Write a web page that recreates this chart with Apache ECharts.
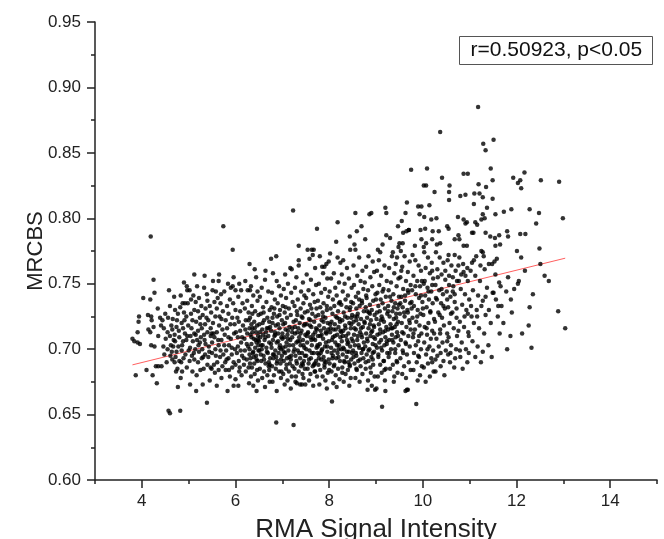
<!DOCTYPE html>
<html><head><meta charset="utf-8">
<script src="https://cdn.jsdelivr.net/npm/echarts@6/dist/echarts.min.js"></script>
<style>html,body{margin:0;padding:0;background:#fff}#c{width:664px;height:539px}</style>
</head><body><div id="c"></div>
<script>
const xMajorTicks=[4,6,8,10,12,14];
const xMinorTicks=[3,5,7,9,11,13,15];
const fitLine=[[3.8,0.688],[13.04,0.7695]];
const statText='r=0.50923, p<0.05';

const pointsA=[[3.80,0.708],[3.84,0.706],[3.91,0.705],[3.96,0.704],[3.91,0.713],[3.93,0.721],[3.94,0.725],[3.87,0.680],[4.03,0.739],[4.18,0.738],
[4.13,0.726],[4.20,0.725],[4.14,0.715],[4.18,0.713],[4.21,0.722],[4.25,0.717],[4.34,0.731],[4.19,0.786],[4.25,0.753],[4.27,0.743],
[4.10,0.684],[4.23,0.680],[4.32,0.674],[4.30,0.687],[4.35,0.687],[4.42,0.687],[4.27,0.702],[4.20,0.703],[4.35,0.710],[4.41,0.718],
[4.39,0.724],[4.44,0.722],[4.48,0.696],[4.46,0.702],[4.50,0.727],[4.51,0.708],[4.57,0.653],[4.60,0.651],[4.82,0.653],[4.55,0.713],
[4.60,0.710],[4.65,0.715],[4.70,0.711],[4.71,0.706],[4.67,0.702],[4.64,0.698],[4.61,0.695],[4.65,0.692],[4.72,0.694],[4.60,0.733],
[4.71,0.730],[4.77,0.727],[4.75,0.722],[4.66,0.723],[4.82,0.732],[4.87,0.735],[4.92,0.735],[4.98,0.735],[4.85,0.720],[4.88,0.716],
[4.92,0.712],[4.80,0.709],[4.88,0.706],[4.95,0.707],[4.78,0.702],[4.85,0.699],[4.93,0.696],[5.00,0.699],[4.70,0.690],[4.80,0.691],
[4.89,0.693],[4.77,0.671],[4.84,0.690],[4.76,0.685],[4.73,0.683],[4.86,0.683],[4.83,0.678],[4.96,0.686],[4.97,0.745],[4.90,0.751],
[4.69,0.740],[4.95,0.725],[4.99,0.718],[4.58,0.745],[4.62,0.703],[4.53,0.690],[4.47,0.716],[4.56,0.724],[4.74,0.717],[4.83,0.741],
[4.55,0.700],[4.63,0.718],[4.68,0.707],[4.74,0.698],[4.79,0.714],[4.86,0.703],[4.91,0.722],[4.97,0.710],[5.03,0.701],[5.06,0.716],
[5.11,0.697],[5.15,0.711],[5.21,0.703],[5.25,0.719],[5.31,0.694],[5.34,0.707],[5.38,0.724],[5.44,0.698],[5.49,0.712],[4.90,0.728]];

const pointsB=[[5.12,0.757],[5.34,0.756],[5.65,0.757],[5.64,0.752],[5.96,0.755],[5.74,0.794],[5.94,0.776],[6.30,0.765],[5.33,0.747],[5.51,0.745],
[5.69,0.742],[5.76,0.744],[5.90,0.747],[5.94,0.748],[6.06,0.740],[6.21,0.752],[6.31,0.745],[5.02,0.745],[4.96,0.748],[5.10,0.741],
[5.05,0.738],[5.15,0.736],[5.22,0.739],[5.27,0.733],[5.20,0.729],[5.12,0.730],[5.05,0.727],[5.08,0.722],[5.16,0.721],[5.24,0.724],
[5.30,0.726],[5.36,0.731],[5.40,0.737],[5.45,0.733],[5.48,0.728],[5.42,0.722],[5.35,0.719],[5.28,0.716],[5.20,0.714],[5.12,0.712],
[5.04,0.710],[5.09,0.706],[5.18,0.707],[5.26,0.709],[5.33,0.711],[5.40,0.713],[5.47,0.716],[5.52,0.720],[5.57,0.725],[5.60,0.731],
[5.55,0.736],[5.62,0.739],[5.68,0.735],[5.73,0.729],[5.70,0.723],[5.65,0.718],[5.60,0.713],[5.55,0.709],[5.50,0.705],[5.43,0.702],
[5.36,0.704],[5.29,0.700],[5.22,0.698],[5.14,0.700],[5.07,0.695],[5.02,0.691],[5.12,0.692],[5.20,0.690],[5.28,0.693],[5.35,0.696],
[5.42,0.694],[5.50,0.697],[5.57,0.700],[5.64,0.703],[5.70,0.707],[5.77,0.711],[5.82,0.716],[5.79,0.722],[5.85,0.727],[5.82,0.733],
[5.88,0.738],[5.95,0.735],[6.00,0.730],[5.93,0.724],[5.98,0.719],[6.04,0.724],[6.10,0.729],[6.15,0.735],[6.20,0.731],[6.25,0.737],
[6.28,0.728],[6.22,0.722],[6.16,0.718],[6.10,0.714],[6.05,0.709],[5.97,0.712],[5.90,0.708],[5.86,0.703],[5.80,0.699],[5.74,0.696],
[5.67,0.694],[5.61,0.690],[5.54,0.688],[5.47,0.686],[5.40,0.688],[5.32,0.685],[5.25,0.684],[5.17,0.680],[5.16,0.668],[5.39,0.659],
[5.83,0.668],[5.96,0.672],[6.06,0.672],[6.29,0.674],[5.88,0.679],[6.08,0.683],[6.13,0.680],[5.49,0.685],[5.56,0.682],[5.64,0.684],
[5.72,0.687],[5.78,0.690],[5.85,0.693],[5.92,0.696],[5.99,0.700],[6.05,0.702],[6.12,0.705],[6.19,0.708],[6.25,0.712],[6.30,0.716],
[6.27,0.702],[6.20,0.699],[6.14,0.695],[6.07,0.691],[6.00,0.688],[5.93,0.686],[5.86,0.684],[6.18,0.688],[6.24,0.692],[6.30,0.696],
[6.22,0.683],[6.28,0.686],[5.70,0.678],[5.45,0.676],[5.30,0.673],[5.60,0.672],[6.00,0.677],[5.08,0.683],[5.03,0.673],[5.24,0.705],
[5.47,0.710],[5.58,0.744],[5.39,0.742],[5.18,0.748],[5.84,0.750],[6.08,0.750],[6.12,0.745],[6.26,0.745],[6.00,0.745],[5.52,0.752]];

const pointsC1=[[6.33,0.748],[6.44,0.755],[6.38,0.741],[6.47,0.737],[6.35,0.733],[6.42,0.729],[6.49,0.726],[6.31,0.724],[6.40,0.721],[6.46,0.718],
[6.36,0.716],[6.44,0.713],[6.32,0.711],[6.48,0.710],[6.39,0.708],[6.45,0.705],[6.34,0.704],[6.42,0.701],[6.49,0.699],[6.37,0.697],
[6.44,0.695],[6.32,0.693],[6.47,0.691],[6.40,0.689],[6.35,0.686],[6.46,0.684],[6.41,0.681],[6.33,0.679],[6.48,0.676],[6.38,0.672],
[6.45,0.668],[6.36,0.713],[6.43,0.707],[6.30,0.700],[6.49,0.703],[6.39,0.694],[6.34,0.719],[6.47,0.744],[6.41,0.761],
[6.63,0.753],[6.56,0.747],[6.70,0.744],[6.52,0.740],[6.66,0.736],[6.59,0.732],[6.73,0.730],[6.54,0.727],[6.68,0.724],[6.61,0.722],
[6.51,0.719],[6.74,0.717],[6.57,0.715],[6.65,0.713],[6.70,0.710],[6.53,0.709],[6.62,0.707],[6.72,0.705],[6.58,0.703],[6.66,0.701],
[6.51,0.699],[6.69,0.697],[6.60,0.695],[6.74,0.693],[6.55,0.691],[6.64,0.689],[6.71,0.687],[6.52,0.685],[6.61,0.683],[6.68,0.680],
[6.57,0.678],[6.73,0.675],[6.63,0.671],[6.54,0.696],[6.67,0.716],[6.59,0.711],[6.72,0.721],[6.50,0.706],[6.64,0.760],[6.71,0.690],[6.56,0.700],
[6.76,0.769],[6.87,0.771],[6.88,0.752],[6.80,0.758],[6.93,0.748],[6.78,0.743],[6.97,0.741],[6.84,0.738],[6.90,0.735],[6.77,0.732],
[6.95,0.730],[6.82,0.727],[6.89,0.725],[6.99,0.722],[6.79,0.720],[6.86,0.718],[6.94,0.716],[6.76,0.714],[6.91,0.712],[6.83,0.710],
[6.98,0.709],[6.80,0.707],[6.88,0.705],[6.95,0.703],[6.77,0.701],[6.85,0.699],[6.92,0.697],[6.99,0.695],[6.81,0.693],[6.89,0.691],
[6.96,0.689],[6.78,0.687],[6.86,0.685],[6.93,0.683],[6.82,0.680],[6.97,0.678],[6.88,0.668],[6.87,0.644],[6.79,0.675],[6.91,0.706],
[6.84,0.713],[6.97,0.700],[6.80,0.696],[6.94,0.726],[6.87,0.694]];

const pointsC2=[[7.23,0.806],[7.17,0.762],[7.20,0.761],[7.06,0.757],[7.24,0.642],[7.12,0.750],[7.03,0.746],[7.19,0.743],[7.08,0.739],[7.22,0.736],
[7.01,0.733],[7.14,0.731],[7.05,0.728],[7.18,0.726],[7.10,0.724],[7.24,0.721],[7.02,0.719],[7.15,0.717],[7.07,0.715],[7.21,0.713],
[7.11,0.711],[7.04,0.709],[7.17,0.707],[7.09,0.705],[7.23,0.703],[7.01,0.701],[7.13,0.699],[7.06,0.697],[7.19,0.695],[7.10,0.693],
[7.03,0.691],[7.16,0.689],[7.22,0.687],[7.08,0.685],[7.14,0.683],[7.02,0.681],[7.20,0.679],[7.11,0.676],[7.05,0.673],[7.18,0.670],
[7.12,0.708],[7.07,0.702],[7.21,0.716],[7.00,0.712],[7.15,0.694],
[7.35,0.779],[7.35,0.768],[7.35,0.764],[7.31,0.674],[7.42,0.673],[7.49,0.673],[7.28,0.675],[7.38,0.673],[7.30,0.755],[7.44,0.751],
[7.27,0.747],[7.40,0.744],[7.47,0.741],[7.33,0.738],[7.45,0.735],[7.26,0.733],[7.39,0.731],[7.48,0.728],[7.32,0.726],[7.43,0.724],
[7.29,0.722],[7.37,0.720],[7.46,0.718],[7.34,0.716],[7.41,0.714],[7.27,0.712],[7.49,0.711],[7.36,0.709],[7.44,0.707],[7.30,0.705],
[7.39,0.703],[7.47,0.701],[7.33,0.699],[7.42,0.697],[7.28,0.695],[7.38,0.693],[7.46,0.691],[7.31,0.689],[7.40,0.687],[7.48,0.685],
[7.35,0.683],[7.43,0.681],[7.29,0.679],[7.45,0.678],[7.37,0.706],[7.32,0.713],[7.48,0.695],[7.41,0.725],[7.26,0.700],[7.44,0.688],
[7.54,0.776],[7.63,0.776],[7.65,0.772],[7.67,0.776],[7.74,0.792],[7.58,0.769],[7.70,0.762],[7.52,0.757],[7.61,0.753],[7.72,0.749],
[7.56,0.745],[7.66,0.742],[7.51,0.739],[7.69,0.736],[7.59,0.734],[7.73,0.731],[7.54,0.729],[7.64,0.727],[7.71,0.725],[7.57,0.723],
[7.68,0.721],[7.52,0.719],[7.62,0.717],[7.74,0.715],[7.55,0.713],[7.66,0.711],[7.60,0.709],[7.70,0.707],[7.53,0.705],[7.63,0.703],
[7.73,0.701],[7.58,0.699],[7.67,0.697],[7.51,0.695],[7.61,0.693],[7.72,0.691],[7.56,0.689],[7.65,0.687],[7.54,0.685],[7.69,0.683],
[7.60,0.681],[7.74,0.679],[7.57,0.676],[7.66,0.672],[7.62,0.707],[7.70,0.713],[7.52,0.710],[7.75,0.697],[7.59,0.718],[7.68,0.688],
[7.85,0.763],[7.90,0.763],[7.94,0.765],[7.99,0.767],[7.80,0.771],[7.87,0.758],[7.96,0.754],[7.78,0.750],[7.91,0.746],[7.83,0.743],
[7.98,0.740],[7.76,0.737],[7.88,0.735],[7.81,0.732],[7.95,0.730],[7.86,0.728],[7.77,0.726],[7.92,0.724],[7.84,0.722],[7.97,0.720],
[7.79,0.718],[7.89,0.716],[7.82,0.714],[7.94,0.712],[7.76,0.710],[7.87,0.708],[7.99,0.706],[7.80,0.704],[7.91,0.702],[7.85,0.700],
[7.96,0.698],[7.78,0.696],[7.88,0.694],[7.83,0.692],[7.93,0.690],[7.77,0.688],[7.90,0.686],[7.81,0.684],[7.97,0.682],[7.86,0.679],
[7.92,0.676],[7.79,0.673],[7.95,0.670],[7.84,0.711],[7.98,0.715],[7.82,0.697],[7.93,0.705],[7.88,0.721],[7.76,0.702],[7.90,0.691]];

const pointsC3=[[8.02,0.773],[8.18,0.770],[8.18,0.797],[8.15,0.782],[8.24,0.766],[8.06,0.660],[8.10,0.758],[8.04,0.754],[8.21,0.751],[8.13,0.747],
[8.01,0.744],[8.16,0.741],[8.08,0.738],[8.23,0.736],[8.11,0.733],[8.03,0.731],[8.19,0.729],[8.07,0.727],[8.14,0.725],[8.22,0.723],
[8.05,0.721],[8.12,0.719],[8.20,0.717],[8.09,0.715],[8.02,0.713],[8.17,0.711],[8.24,0.709],[8.06,0.707],[8.13,0.705],[8.21,0.703],
[8.04,0.701],[8.11,0.699],[8.18,0.697],[8.08,0.695],[8.15,0.693],[8.23,0.691],[8.01,0.689],[8.10,0.687],[8.19,0.685],[8.05,0.683],
[8.14,0.680],[8.22,0.677],[8.09,0.674],[8.16,0.671],[8.12,0.710],[8.20,0.700],[8.03,0.716],[8.17,0.724],[8.07,0.693],[8.24,0.714],
[8.44,0.786],[8.45,0.776],[8.30,0.768],[8.38,0.762],[8.27,0.757],[8.42,0.754],[8.33,0.750],[8.48,0.747],[8.29,0.744],
[8.40,0.741],[8.35,0.738],[8.47,0.736],[8.26,0.734],[8.37,0.732],[8.44,0.730],[8.31,0.728],[8.49,0.726],[8.39,0.724],[8.28,0.722],
[8.43,0.720],[8.34,0.718],[8.46,0.716],[8.30,0.714],[8.41,0.712],[8.36,0.710],[8.48,0.708],[8.27,0.706],[8.39,0.704],[8.45,0.702],
[8.32,0.700],[8.42,0.698],[8.29,0.696],[8.37,0.694],[8.47,0.692],[8.33,0.690],[8.44,0.688],[8.28,0.686],[8.40,0.684],[8.35,0.681],
[8.46,0.678],[8.31,0.675],[8.43,0.672],[8.38,0.707],[8.26,0.713],[8.49,0.697],[8.34,0.725],[8.41,0.690],[8.30,0.701],[8.47,0.719],
[8.56,0.804],[8.69,0.794],[8.59,0.790],[8.54,0.780],[8.56,0.776],[8.64,0.770],[8.52,0.764],[8.71,0.760],[8.60,0.756],[8.67,0.752],
[8.53,0.749],[8.73,0.746],[8.62,0.743],[8.57,0.740],[8.70,0.737],[8.51,0.735],[8.65,0.733],[8.58,0.731],[8.74,0.729],[8.61,0.727],
[8.55,0.725],[8.68,0.723],[8.52,0.721],[8.63,0.719],[8.72,0.717],[8.57,0.715],[8.66,0.713],[8.53,0.711],[8.70,0.709],[8.60,0.707],
[8.74,0.705],[8.55,0.703],[8.64,0.701],[8.51,0.699],[8.69,0.697],[8.58,0.695],[8.73,0.693],[8.62,0.691],[8.54,0.689],[8.67,0.687],
[8.59,0.684],[8.71,0.681],[8.56,0.678],[8.65,0.675],[8.61,0.710],[8.68,0.716],[8.52,0.694],[8.72,0.700],[8.58,0.722],[8.64,0.738],
[8.86,0.803],[8.90,0.804],[8.77,0.784],[8.82,0.669],[8.98,0.669],[8.84,0.771],[8.93,0.767],[8.79,0.763],[8.96,0.759],[8.88,0.755],
[8.76,0.751],[8.92,0.748],[8.83,0.745],[8.99,0.742],[8.80,0.739],[8.94,0.737],[8.87,0.734],[8.78,0.732],[8.91,0.730],[8.85,0.728],
[8.97,0.726],[8.81,0.724],[8.89,0.722],[8.76,0.720],[8.95,0.718],[8.84,0.716],[8.92,0.714],[8.79,0.712],[8.88,0.710],[8.98,0.708],
[8.82,0.706],[8.93,0.704],[8.77,0.702],[8.86,0.700],[8.96,0.698],[8.80,0.696],[8.90,0.694],[8.84,0.691],[8.94,0.688],[8.78,0.685],
[8.89,0.682],[8.97,0.679],[8.83,0.676],[8.91,0.672],[8.87,0.719],[8.95,0.709],[8.81,0.729],[8.93,0.697],[8.79,0.741]];

const pointsC4=[[9.20,0.808],[9.22,0.804],[9.22,0.787],[9.04,0.776],[9.09,0.774],[9.13,0.656],[9.01,0.670],[9.20,0.668],[9.14,0.780],[9.06,0.768],
[9.18,0.764],[9.02,0.760],[9.11,0.756],[9.23,0.752],[9.07,0.749],[9.16,0.746],[9.03,0.743],[9.21,0.740],[9.10,0.738],[9.14,0.735],
[9.05,0.733],[9.19,0.731],[9.08,0.729],[9.24,0.727],[9.12,0.725],[9.01,0.723],[9.17,0.721],[9.06,0.719],[9.22,0.717],[9.09,0.715],
[9.15,0.713],[9.03,0.711],[9.20,0.709],[9.11,0.707],[9.07,0.705],[9.18,0.703],[9.02,0.701],[9.13,0.699],[9.24,0.697],[9.05,0.694],
[9.16,0.691],[9.09,0.688],[9.21,0.685],[9.12,0.682],[9.04,0.679],[9.19,0.676],[9.10,0.722],[9.23,0.706],[9.14,0.744],
[9.47,0.794],[9.50,0.781],[9.48,0.778],[9.36,0.774],[9.34,0.771],[9.45,0.770],[9.38,0.675],[9.30,0.785],[9.42,0.765],[9.28,0.762],
[9.39,0.758],[9.48,0.754],[9.32,0.751],[9.44,0.748],[9.27,0.745],[9.37,0.742],[9.49,0.740],[9.33,0.737],[9.41,0.735],[9.26,0.733],
[9.46,0.731],[9.35,0.729],[9.43,0.727],[9.29,0.725],[9.38,0.723],[9.47,0.721],[9.31,0.719],[9.40,0.717],[9.26,0.715],[9.45,0.713],
[9.34,0.711],[9.42,0.709],[9.28,0.707],[9.37,0.705],[9.48,0.703],[9.32,0.700],[9.41,0.697],[9.27,0.694],[9.44,0.691],[9.36,0.688],
[9.30,0.685],[9.46,0.682],[9.39,0.679],[9.43,0.724],[9.35,0.716],[9.49,0.734],
[9.66,0.812],[9.63,0.804],[9.55,0.798],[9.65,0.790],[9.58,0.789],[9.57,0.781],[9.63,0.668],[9.68,0.669],[9.75,0.837],
[9.70,0.791],[9.53,0.775],[9.61,0.771],[9.72,0.767],[9.56,0.763],[9.68,0.759],[9.52,0.755],[9.64,0.752],[9.74,0.749],
[9.58,0.746],[9.69,0.743],[9.54,0.740],[9.62,0.737],[9.73,0.735],[9.57,0.732],[9.67,0.730],[9.51,0.727],[9.61,0.725],[9.71,0.722],
[9.55,0.720],[9.65,0.717],[9.74,0.715],[9.59,0.712],[9.69,0.710],[9.53,0.707],[9.63,0.705],[9.72,0.702],[9.57,0.699],[9.66,0.696],
[9.52,0.693],[9.70,0.690],[9.60,0.687],[9.74,0.684],[9.56,0.681],[9.64,0.678],[9.62,0.741],[9.68,0.728],[9.54,0.760]];

const pointsCore=[[5.53,0.712],[5.58,0.695],[5.63,0.707],[5.68,0.699],[5.72,0.715],[5.76,0.703],[5.81,0.692],[5.85,0.709],[5.89,0.719],[5.92,0.701],
[5.96,0.690],[6.01,0.713],[6.03,0.697],[6.07,0.721],[6.11,0.699],[6.14,0.709],[6.18,0.693],[6.21,0.715],[6.24,0.704],[6.28,0.722],
[6.31,0.689],[6.34,0.709],[6.38,0.698],[6.41,0.716],[6.45,0.692],[6.48,0.707],[5.66,0.725],[5.79,0.684],[6.09,0.686],[6.36,0.727],
[6.52,0.713],[6.55,0.703],[6.58,0.720],[6.61,0.692],[6.64,0.709],[6.67,0.698],[6.70,0.716],[6.73,0.688],[6.76,0.704],[6.79,0.724],
[6.82,0.696],[6.85,0.711],[6.88,0.689],[6.91,0.719],[6.94,0.701],[6.97,0.692],[7.00,0.708],[7.03,0.698],[7.06,0.720],[7.09,0.688],
[7.12,0.714],[7.15,0.703],[7.18,0.692],[7.21,0.709],[7.24,0.698],[7.27,0.717],[7.30,0.691],[7.33,0.706],[7.36,0.697],[7.39,0.712],
[7.42,0.689],[7.45,0.703],[7.48,0.719],[6.60,0.728],[6.83,0.731],[7.07,0.732],[7.31,0.729],[6.72,0.684],[6.98,0.683],[7.26,0.685],
[7.51,0.700],[7.54,0.712],[7.57,0.692],[7.60,0.722],[7.63,0.697],[7.66,0.708],[7.69,0.689],[7.72,0.716],[7.75,0.703],[7.78,0.693],
[7.81,0.710],[7.84,0.699],[7.87,0.725],[7.90,0.688],[7.93,0.713],[7.96,0.702],[7.99,0.692],[8.02,0.719],[8.05,0.697],[8.08,0.709],
[8.11,0.688],[8.14,0.715],[8.17,0.703],[8.20,0.694],[8.23,0.721],[8.26,0.700],[8.29,0.710],[8.32,0.691],[8.35,0.716],[8.38,0.698],
[8.41,0.705],[8.44,0.687],[8.47,0.724],[7.62,0.731],[7.95,0.733],[8.21,0.735],[8.45,0.732],[7.70,0.683],[8.00,0.684],[8.28,0.682],
[8.51,0.706],[8.54,0.716],[8.57,0.697],[8.60,0.725],[8.63,0.703],[8.66,0.692],[8.69,0.711],[8.72,0.700],[8.75,0.721],[8.78,0.690],
[8.81,0.708],[8.84,0.699],[8.87,0.727],[8.90,0.713],[8.93,0.692],[8.96,0.717],[8.99,0.703],[9.02,0.728],[9.05,0.696],[9.08,0.712],
[9.11,0.701],[9.14,0.723],[9.17,0.691],[9.20,0.714],[9.23,0.704],[9.26,0.729],[9.29,0.697],[9.32,0.716],[9.35,0.707],[9.38,0.732],
[9.41,0.700],[9.44,0.719],[9.47,0.710],[8.70,0.735],[9.00,0.738],[9.30,0.740],[8.58,0.685],[8.88,0.686],[9.18,0.684],[9.45,0.690],
[9.52,0.735],[9.56,0.713],[9.60,0.728],[9.64,0.704],[9.68,0.745],[9.72,0.720],[9.76,0.731],[9.80,0.712],[9.84,0.748],[9.88,0.725],
[9.92,0.710],[9.96,0.741],[10.00,0.731],[10.04,0.752],[10.08,0.716],[10.12,0.744],[10.16,0.728],[10.20,0.749],[10.24,0.712],[10.28,0.739],
[10.32,0.755],[10.36,0.726],[10.40,0.746],[10.44,0.733],[10.48,0.760],[10.52,0.738],[10.56,0.749],[10.60,0.727],[10.64,0.755],[10.68,0.742],
[10.72,0.731],[10.76,0.764],[9.58,0.697],[9.90,0.695],[10.10,0.700],[10.38,0.697]];

const pointsD1=[[11.18,0.885],[10.37,0.866],[11.29,0.857],[11.51,0.860],[11.34,0.852],[10.09,0.838],[10.41,0.831],[10.87,0.834],[10.96,0.834],[11.45,0.838],
[11.49,0.829],[11.19,0.826],[11.35,0.824],[11.93,0.831],[12.03,0.827],[12.08,0.829],[12.10,0.823],[12.17,0.835],[12.52,0.829],[12.91,0.828],
[10.02,0.825],[10.07,0.825],[10.57,0.825],[10.25,0.820],[10.56,0.820],[10.56,0.814],[10.80,0.817],[10.91,0.818],[11.10,0.819],[11.21,0.819],
[11.28,0.816],[11.49,0.815],[9.90,0.809],[9.97,0.809],[10.14,0.810],[11.09,0.811],[11.37,0.808],[11.73,0.805],[11.89,0.807],[12.28,0.807],
[12.48,0.804],[12.99,0.800],[11.55,0.803],[11.28,0.803],[11.32,0.800],[11.25,0.799],[10.75,0.801],[9.93,0.803],[10.03,0.801],[10.18,0.799],
[10.29,0.800],[10.87,0.799],[10.94,0.797],[10.91,0.796],[11.16,0.795],[11.12,0.797],[11.05,0.789],[11.08,0.789],[10.52,0.794],[10.55,0.792],
[10.05,0.792],[9.70,0.791],[10.21,0.790],[10.34,0.790],[10.76,0.787],[10.68,0.784],[10.78,0.784],[11.34,0.789],[11.44,0.786],[11.54,0.785],
[11.63,0.787],[11.80,0.790],[11.82,0.786],[12.08,0.788],[12.19,0.788],[12.01,0.775],[12.42,0.796],[12.49,0.777],[9.97,0.784],[10.02,0.778],
[10.07,0.781],[10.20,0.784],[10.30,0.780],[10.37,0.781],[10.87,0.779],[10.94,0.779],[10.55,0.772],[10.68,0.772],[11.25,0.775],[11.28,0.774],
[11.30,0.771],[11.14,0.771],[11.09,0.768],[11.05,0.766],[11.55,0.779],[11.65,0.780],[11.58,0.769],[11.53,0.767],[11.41,0.765],[11.48,0.765],
[11.23,0.764],[11.32,0.761],[12.51,0.765],[12.05,0.752],[12.03,0.750],[12.69,0.752],[11.82,0.755],[11.63,0.751],[11.51,0.743],[11.49,0.743],
[11.56,0.738],[11.68,0.733],[11.61,0.733],[11.37,0.747],[11.34,0.740],[10.96,0.752],[10.91,0.756],[10.82,0.757],[10.87,0.759],[10.77,0.752],
[10.73,0.752],[12.89,0.729],[13.04,0.716],[12.26,0.718],[11.87,0.710],[12.32,0.701],[11.34,0.726],[11.16,0.725],[11.04,0.725],[10.96,0.727],
[10.89,0.725],[10.98,0.710],[10.76,0.714],[10.73,0.710],[10.52,0.712],[10.55,0.709],[10.37,0.712],[10.85,0.685],[9.66,0.669],[9.86,0.658],
[10.59,0.697],[10.69,0.693],[10.79,0.699],[10.98,0.697],[10.54,0.696],[10.20,0.690],[10.27,0.692]];

const pointsD2=[[9.78,0.772],[9.84,0.768],[9.91,0.764],[9.96,0.760],[9.80,0.756],[9.88,0.752],[9.94,0.748],[9.77,0.745],[9.85,0.742],[9.92,0.739],
[9.99,0.736],[9.81,0.733],[9.89,0.730],[9.95,0.727],[9.78,0.724],[9.86,0.721],[9.93,0.718],[9.83,0.715],[9.97,0.712],[9.79,0.709],
[9.90,0.706],[9.85,0.703],[9.96,0.700],[9.81,0.697],[9.92,0.694],[9.87,0.690],[9.98,0.687],[9.80,0.684],[9.94,0.680],[9.89,0.676],
[9.76,0.736],[9.98,0.752],[9.83,0.779],[9.95,0.791],
[10.03,0.774],[10.11,0.770],[10.19,0.766],[10.06,0.762],[10.15,0.758],[10.22,0.754],[10.02,0.750],[10.10,0.747],[10.18,0.744],[10.05,0.741],
[10.13,0.738],[10.21,0.735],[10.08,0.732],[10.16,0.729],[10.01,0.726],[10.24,0.723],[10.12,0.720],[10.04,0.717],[10.20,0.714],[10.09,0.711],
[10.17,0.708],[10.03,0.705],[10.14,0.702],[10.22,0.699],[10.07,0.696],[10.18,0.693],[10.11,0.689],[10.02,0.686],[10.23,0.683],[10.15,0.679],
[10.06,0.675],[10.20,0.760],
[10.28,0.774],[10.36,0.770],[10.44,0.766],[10.31,0.761],[10.40,0.757],[10.48,0.753],[10.27,0.749],[10.35,0.745],[10.43,0.742],[10.30,0.738],
[10.39,0.735],[10.47,0.731],[10.33,0.728],[10.41,0.724],[10.26,0.721],[10.45,0.718],[10.37,0.715],[10.29,0.708],[10.42,0.705],[10.34,0.702],
[10.49,0.699],[10.31,0.695],[10.44,0.691],[10.38,0.687],[10.27,0.683],[10.46,0.680],
[10.53,0.768],[10.61,0.764],[10.70,0.760],[10.56,0.756],[10.65,0.748],[10.51,0.744],[10.59,0.740],[10.68,0.736],[10.54,0.732],[10.63,0.728],
[10.72,0.724],[10.57,0.720],[10.66,0.716],[10.52,0.706],[10.60,0.703],[10.71,0.700],[10.58,0.690],[10.67,0.686],[10.64,0.744],
[10.78,0.770],[10.86,0.765],[10.95,0.762],[10.81,0.746],[10.90,0.742],[10.99,0.738],[10.84,0.734],[10.93,0.730],[10.79,0.721],[10.88,0.717],
[10.97,0.713],[10.83,0.705],[10.92,0.700],[10.80,0.694],[10.95,0.690],
[11.02,0.760],[11.12,0.756],[11.22,0.752],[11.07,0.745],[11.18,0.741],[11.28,0.737],[11.03,0.733],[11.15,0.730],[11.25,0.733],[11.41,0.730],
[11.09,0.720],[11.20,0.716],[11.31,0.712],[11.45,0.720],[11.06,0.706],[11.17,0.702],[11.28,0.698],[11.40,0.703],[11.12,0.694],[11.24,0.690],
[11.47,0.694],
[11.55,0.757],[11.66,0.748],[11.78,0.744],[11.88,0.738],[11.60,0.725],[11.72,0.720],[11.90,0.728],[11.64,0.712],[11.80,0.700],[11.95,0.746],
[12.10,0.770],[12.18,0.760],[12.35,0.742],[12.28,0.732],[12.60,0.756],[12.12,0.712]];

const points=[].concat(pointsA,pointsB,pointsC1,pointsC2,pointsC3,pointsC4,pointsCore,pointsD1,pointsD2);

const FONT='"Liberation Sans", Arial, Helvetica, sans-serif';
const AX='#222';
const chart=echarts.init(document.getElementById('c'),null,{renderer:'canvas'});
chart.setOption({
  animation:false,
  backgroundColor:'#fff',
  grid:{left:95,right:7,top:22,bottom:59,containLabel:false,outerBoundsMode:'none'},
  xAxis:[{
    type:'value',min:3,max:15,position:'bottom',
    axisLine:{show:true,onZero:false,lineStyle:{color:AX,width:1.5}},
    axisTick:{show:true,customValues:xMajorTicks,length:8,lineStyle:{color:AX,width:1.5}},
    axisLabel:{show:true,customValues:xMajorTicks,fontSize:17,color:AX,fontFamily:FONT,margin:13},
    splitLine:{show:false},
    name:'RMA Signal Intensity',nameLocation:'middle',nameGap:37,nameMoveOverlap:false,
    nameTextStyle:{fontSize:26,color:AX,fontFamily:FONT}
  },{
    type:'value',min:3,max:15,position:'bottom',
    axisLine:{show:false,onZero:false},
    axisTick:{show:true,customValues:xMinorTicks,length:4,lineStyle:{color:AX,width:1.5}},
    axisLabel:{show:false},
    splitLine:{show:false}
  }],
  yAxis:{
    type:'value',min:0.6,max:0.95,interval:0.05,
    axisLine:{show:true,onZero:false,lineStyle:{color:AX,width:1.5}},
    axisTick:{show:true,length:8,lineStyle:{color:AX,width:1.5}},
    minorTick:{show:true,splitNumber:2,length:4,lineStyle:{color:AX,width:1.5}},
    axisLabel:{fontSize:17,color:AX,fontFamily:FONT,margin:14,formatter:v=>v.toFixed(2)},
    splitLine:{show:false},
    name:'MRCBS',nameLocation:'middle',nameGap:48,nameMoveOverlap:false,
    nameTextStyle:{fontSize:22,color:AX,fontFamily:FONT}
  },
  series:[{
    type:'line',data:fitLine,symbol:'none',silent:true,z:1,
    lineStyle:{color:'#ff5f5f',width:1}
  },{
    type:'scatter',data:points,symbol:'circle',symbolSize:4.5,z:2,
    itemStyle:{color:'#000'}
  }],
  graphic:[{
    type:'group',left:459,top:36,
    children:[
      {type:'rect',shape:{x:0,y:0,width:193,height:28},style:{fill:'#fff',stroke:'#555',lineWidth:1}},
      {type:'text',x:11,y:14,style:{text:statText,fontSize:21,fontFamily:FONT,fill:'#111',verticalAlign:'middle',align:'left'}}
    ]
  }]
});
</script>
</body></html>
